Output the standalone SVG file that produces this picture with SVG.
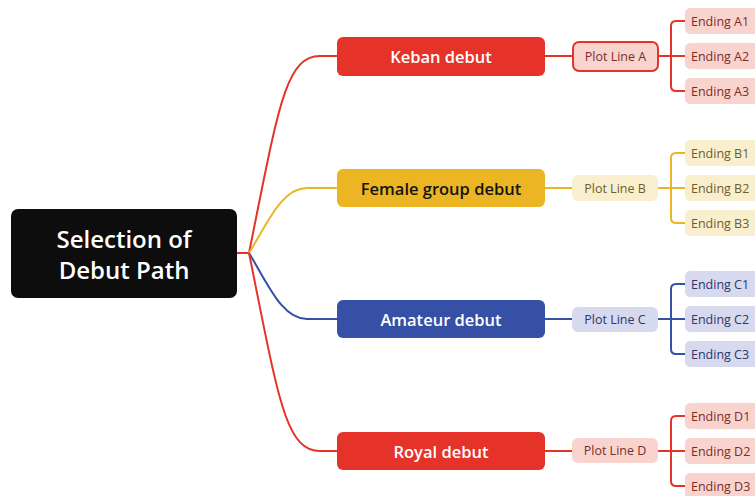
<svg xmlns="http://www.w3.org/2000/svg" width="755" height="496" viewBox="0 0 755 496">
<style>
text{font-family:"Open Sans","Liberation Sans",sans-serif;}
.c{fill:none;stroke-width:2;}
.r{stroke:#e5332a;}
.y{stroke:#ebb524;}
.b{stroke:#3550a4;}
.main{font-size:16.5px;font-weight:600;text-anchor:middle;dominant-baseline:central;}
.plot{font-size:12.5px;font-weight:500;text-anchor:middle;dominant-baseline:central;}
.end{font-size:12.5px;font-weight:500;dominant-baseline:central;}
.fr{fill:#f9d4cf;} .fy{fill:#f9efcf;} .fb{fill:#d7d9ef;}
.tr{fill:#7a2d27;} .ty{fill:#6e5d2c;} .tb{fill:#2f3568;}
</style>
<g id="connectors">
<path class="c r" d="M237,253 L249,253"/>
<path class="c r" d="M249,253 C278,110 285,56 320,56 L337,56"/>
<path class="c y" d="M249,253 C268,222 282,188 307,188 L337,188"/>
<path class="c b" d="M249,253 C268,284 282,319 307,319 L337,319"/>
<path class="c r" d="M249,253 C278,396 285,451 320,451 L337,451"/>
<path class="c r" d="M545,56 L572,56 M658,56 L685,56 M685,21 L676,21 Q671,21 671,26 L671,86 Q671,91 676,91 L685,91"/>
<path class="c y" d="M545,188 L572,188 M658,188 L685,188 M685,153 L676,153 Q671,153 671,158 L671,218 Q671,223 676,223 L685,223"/>
<path class="c b" d="M545,319 L572,319 M658,319 L685,319 M685,284 L676,284 Q671,284 671,289 L671,349 Q671,354 676,354 L685,354"/>
<path class="c r" d="M545,451 L572,451 M658,451 L685,451 M685,416 L676,416 Q671,416 671,421 L671,481 Q671,486 676,486 L685,486"/>
</g>
<g id="root">
<rect x="11" y="209" width="226" height="89" rx="7" fill="#0d0d0d"/>
<text x="124" y="238" font-size="24" font-weight="600" fill="#ffffff" text-anchor="middle" dominant-baseline="central">Selection of</text>
<text x="124" y="269" font-size="24" font-weight="600" fill="#ffffff" text-anchor="middle" dominant-baseline="central">Debut Path</text>
</g>
<g id="keban">
<rect x="337" y="37" width="208" height="39" rx="6" fill="#e5332a"/>
<text class="main" x="441" y="56.5" fill="#ffffff">Keban debut</text>
</g>
<g id="female">
<rect x="337" y="169" width="208" height="38" rx="6" fill="#ebb524"/>
<text class="main" x="441" y="188" fill="#141414" font-weight="700">Female group debut</text>
</g>
<g id="amateur">
<rect x="337" y="300" width="208" height="38" rx="6" fill="#3550a4"/>
<text class="main" x="441" y="319" fill="#ffffff">Amateur debut</text>
</g>
<g id="royal">
<rect x="337" y="432" width="208" height="38" rx="6" fill="#e5332a"/>
<text class="main" x="441" y="451" fill="#ffffff">Royal debut</text>
</g>
<g id="plotA">
<rect x="573" y="42" width="85" height="29" rx="6" class="fr" stroke="#e5332a" stroke-width="2"/>
<text class="plot tr" x="615.5" y="56.5">Plot Line A</text>
</g>
<g id="plotB">
<rect x="572" y="175" width="86" height="26" rx="6" class="fy"/>
<text class="plot ty" x="615" y="188">Plot Line B</text>
</g>
<g id="plotC">
<rect x="572" y="307" width="86" height="25" rx="6" class="fb"/>
<text class="plot tb" x="615" y="319.5">Plot Line C</text>
</g>
<g id="plotD">
<rect x="572" y="438" width="86" height="25" rx="6" class="fr"/>
<text class="plot tr" x="615" y="450.5">Plot Line D</text>
</g>
<g id="endA1"><rect x="685" y="8" width="80" height="26" rx="5" class="fr"/><text class="end tr" x="691" y="21">Ending A1</text></g>
<g id="endA2"><rect x="685" y="43" width="80" height="26" rx="5" class="fr"/><text class="end tr" x="691" y="56">Ending A2</text></g>
<g id="endA3"><rect x="685" y="78" width="80" height="26" rx="5" class="fr"/><text class="end tr" x="691" y="91">Ending A3</text></g>
<g id="endB1"><rect x="685" y="140" width="80" height="26" rx="5" class="fy"/><text class="end ty" x="691" y="153">Ending B1</text></g>
<g id="endB2"><rect x="685" y="175" width="80" height="26" rx="5" class="fy"/><text class="end ty" x="691" y="188">Ending B2</text></g>
<g id="endB3"><rect x="685" y="210" width="80" height="26" rx="5" class="fy"/><text class="end ty" x="691" y="223">Ending B3</text></g>
<g id="endC1"><rect x="685" y="271" width="80" height="26" rx="5" class="fb"/><text class="end tb" x="691" y="284">Ending C1</text></g>
<g id="endC2"><rect x="685" y="306" width="80" height="26" rx="5" class="fb"/><text class="end tb" x="691" y="319">Ending C2</text></g>
<g id="endC3"><rect x="685" y="341" width="80" height="26" rx="5" class="fb"/><text class="end tb" x="691" y="354">Ending C3</text></g>
<g id="endD1"><rect x="685" y="403" width="80" height="26" rx="5" class="fr"/><text class="end tr" x="691" y="416">Ending D1</text></g>
<g id="endD2"><rect x="685" y="438" width="80" height="26" rx="5" class="fr"/><text class="end tr" x="691" y="451">Ending D2</text></g>
<g id="endD3"><rect x="685" y="473" width="80" height="26" rx="5" class="fr"/><text class="end tr" x="691" y="486">Ending D3</text></g>
</svg>
